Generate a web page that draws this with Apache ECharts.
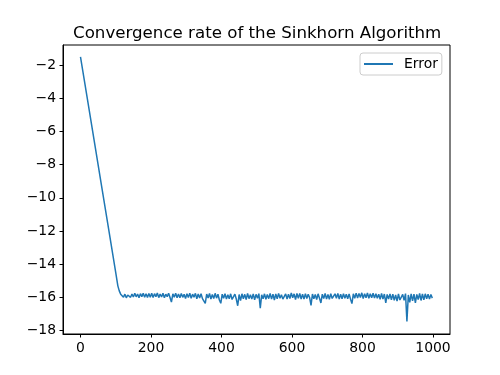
<!DOCTYPE html>
<html>
<head>
<meta charset="utf-8">
<script src="https://cdn.jsdelivr.net/npm/echarts@6/dist/echarts.min.js"></script>
<style>html,body{margin:0;padding:0;background:#fff}#c{width:500px;height:375px}</style>
</head>
<body>
<div id="c"></div>
<script>
// Title / legend
const titleText = "Convergence rate of the Sinkhorn Algorithm";
const seriesName = "Error";

// Descent phase: iterations and log-error readings
const descentIter = [0, 20, 40, 60, 80, 100, 106, 110, 114];
const descentErr  = [-1.5, -4.1, -6.7, -9.3, -11.9, -14.5, -15.3, -15.6, -15.8];

// Plateau phase: readings every 4 iterations starting at 118
const plateauStart = 118;
const plateauStep = 4;
const plateauErr = [
  -15.82,-15.98,-15.80,-16.02,-15.85,-15.76,-15.99,-15.80,-15.97,-15.75,-15.96,-15.79,-16.01,-15.77,-15.95,-15.74,-15.98,-15.78,-16.00,-15.76,
  -15.98,-15.75,-16.00,-15.77,-15.96,-15.73,-16.01,-15.79,-15.97,-15.75,-16.02,-15.80,-15.95,-15.74,-16.00,-16.28,-15.78,-15.98,-15.75,-16.01,
  -15.79,-16.02,-15.76,-15.99,-15.81,-16.06,-15.77,-16.00,-15.74,-16.05,-15.80,-15.98,-15.75,-16.08,-15.79,-16.03,-15.77,-16.07,-16.12,-16.36,
  -15.79,-16.03,-15.76,-16.09,-15.82,-16.06,-15.75,-16.04,-15.80,-16.15,-16.35,-15.80,-16.05,-15.77,-16.10,-15.83,-16.08,-15.78,-16.12,-16.18,
  -15.80,-16.09,-16.50,-15.82,-16.19,-15.78,-16.08,-15.81,-16.12,-15.76,-16.07,-15.84,-16.10,-15.78,-16.14,-15.81,-16.05,-15.77,-16.64,-15.84,
  -16.08,-15.78,-16.11,-15.82,-16.07,-15.76,-16.10,-15.80,-16.15,-15.79,-16.08,-15.75,-16.05,-15.83,-16.10,-16.19,-15.78,-16.09,-15.81,-16.06,
  -15.73,-16.02,-15.78,-16.12,-15.76,-16.05,-15.75,-16.09,-15.80,-16.10,-15.77,-16.06,-15.81,-16.01,-16.47,-15.79,-16.08,-15.82,-16.12,-15.78,
  -16.05,-16.33,-15.80,-16.07,-15.76,-16.10,-15.82,-16.11,-15.77,-16.06,-16.14,-15.78,-16.05,-15.75,-16.09,-15.81,-16.08,-15.77,-16.05,-15.80,
  -16.08,-15.79,-16.10,-16.37,-15.78,-16.05,-15.74,-16.04,-15.76,-16.00,-15.72,-16.06,-15.77,-16.02,-15.73,-16.05,-15.78,-16.01,-15.75,-16.04,
  -15.77,-16.05,-15.80,-16.11,-15.76,-16.09,-15.79,-16.33,-15.82,-16.09,-15.78,-16.14,-15.80,-16.17,-15.84,-16.22,-15.79,-16.15,-16.26,-15.81,
  -16.17,-15.77,-17.44,-15.85,-16.29,-15.78,-16.21,-15.80,-16.33,-15.82,-16.12,-15.76,-16.18,-15.79,-16.14,-15.78,-16.08,-15.80,-16.10,-15.82,
  -16.04
];

// Tick labels
const xTicks = [0, 200, 400, 600, 800, 1000];
const yTicks = [-18, -16, -14, -12, -10, -8, -6, -4, -2];

const data = [];
descentIter.forEach((it, i) => data.push([it, descentErr[i]]));
plateauErr.forEach((v, i) => data.push([plateauStart + plateauStep * i, v]));

const font = "DejaVu Sans";
const fmt = v => String(v).replace('-', '\u2212');

const chart = echarts.init(document.getElementById('c'), null, {renderer: 'canvas'});
chart.setOption({
  animation: false,
  backgroundColor: '#ffffff',
  title: {
    text: titleText,
    left: 68,
    top: 20,
    padding: [5, 5, 5, 5],
    textStyle: {fontFamily: font, fontSize: 16.67, fontWeight: 'normal', color: '#000'}
  },
  legend: {
    data: [seriesName],
    left: 360,
    top: 53,
    icon: 'rect',
    itemWidth: 29,
    itemHeight: 2,
    padding: [4, 4, 4, 4],
    borderColor: '#cccccc',
    borderWidth: 1,
    borderRadius: 3,
    backgroundColor: 'rgba(255,255,255,0.8)',
    textStyle: {fontFamily: font, fontSize: 13.9, color: '#000', padding: [0, 0, 0, 6]}
  },
  grid: {
    left: 63, right: 50, top: 45, bottom: 41,
    show: true, borderColor: '#000', borderWidth: 1, backgroundColor: 'transparent'
  },
  xAxis: {
    type: 'value',
    min: -49.6,
    max: 1048.2,
    splitLine: {show: false},
    axisLine: {show: true, onZero: false, lineStyle: {color: '#000', width: 1}},
    axisTick: {show: true, length: 3.5, lineStyle: {color: '#000'}, customValues: xTicks},
    axisLabel: {customValues: xTicks, margin: 7, fontFamily: font, fontSize: 13.9, color: '#000', formatter: fmt}
  },
  yAxis: {
    type: 'value',
    min: -18.2,
    max: -0.79,
    splitLine: {show: false},
    axisLine: {show: true, onZero: false, lineStyle: {color: '#000', width: 1}},
    axisTick: {show: true, length: 3.5, lineStyle: {color: '#000'}, customValues: yTicks},
    axisLabel: {customValues: yTicks, margin: 7, fontFamily: font, fontSize: 13.9, color: '#000', formatter: fmt}
  },
  series: [{
    name: seriesName,
    type: 'line',
    data: data,
    symbol: 'none',
    showSymbol: false,
    color: '#1f77b4',
    lineStyle: {color: '#1f77b4', width: 1.5},
    clip: true
  }]
});
</script>
</body>
</html>
